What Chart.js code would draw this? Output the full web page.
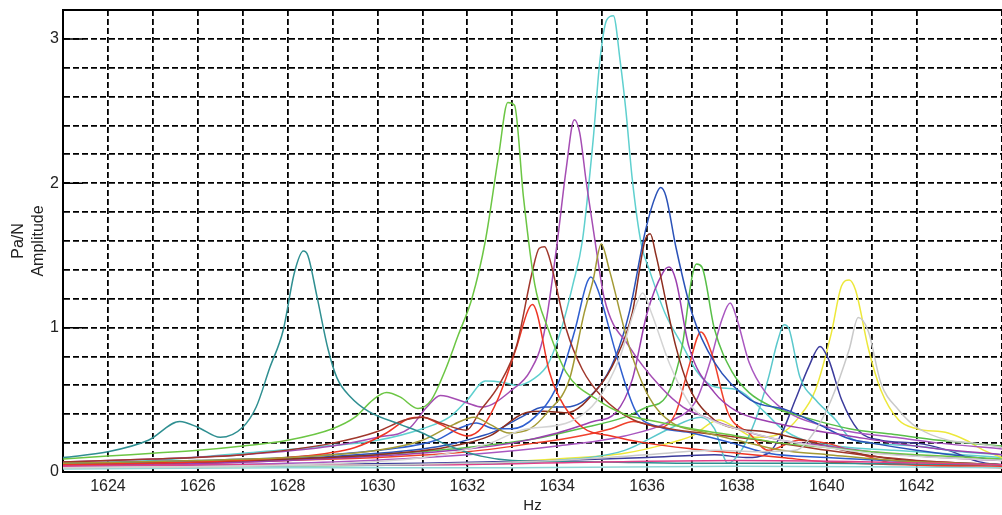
<!DOCTYPE html>
<html>
<head>
<meta charset="utf-8">
<script src="https://cdn.jsdelivr.net/npm/chart.js@4.4.0/dist/chart.umd.min.js"></script>
<style>
  html, body { margin: 0; padding: 0; background: #fff; }
  #wrap { width: 1002px; height: 515px; }
</style>
</head>
<body>
<div id="wrap"><canvas id="ampChart" width="1002" height="515"></canvas></div>
<script>
// frequency response curves, [Hz, Pa/N]
const tealLine = [[1623,0.10],[1624,0.14],[1624.9,0.22],[1625.6,0.35],[1626,0.31],[1626.5,0.24],[1627,0.31],[1627.3,0.45],[1627.6,0.72],[1627.9,0.98],[1628.15,1.38],[1628.35,1.53],[1628.45,1.5],[1628.65,1.22],[1628.9,0.85],[1629.1,0.65],[1629.4,0.52],[1629.8,0.42],[1630.5,0.33],[1631,0.27],[1631.6,0.18],[1632.3,0.11],[1633,0.08],[1635,0.07],[1637,0.06],[1640,0.06],[1643.9,0.05]];
const greenLine = [[1623,0.09],[1624,0.11],[1625,0.13],[1626,0.15],[1627,0.18],[1628,0.22],[1629,0.3],[1629.5,0.38],[1629.9,0.5],[1630.2,0.55],[1630.5,0.52],[1630.9,0.44],[1631.2,0.5],[1631.5,0.7],[1631.8,0.95],[1632.1,1.2],[1632.4,1.6],[1632.7,2.2],[1632.9,2.56],[1633.05,2.54],[1633.25,1.9],[1633.5,1.3],[1633.8,0.99],[1634.2,0.69],[1634.9,0.5],[1635.5,0.4],[1636.2,0.35],[1637,0.3],[1638,0.25],[1639,0.2],[1640,0.17],[1641,0.14],[1642,0.12],[1643.9,0.09]];
const purpleLine = [[1623,0.07],[1625,0.09],[1627,0.12],[1629,0.18],[1630,0.24],[1630.7,0.3],[1631.1,0.45],[1631.4,0.53],[1631.98,0.48],[1632.33,0.45],[1633,0.57],[1633.4,0.7],[1633.7,0.95],[1633.98,1.54],[1634.2,2.1],[1634.38,2.44],[1634.5,2.35],[1634.65,2.0],[1634.87,1.54],[1635.05,1.2],[1635.6,0.87],[1636.3,0.59],[1636.8,0.45],[1637.3,0.38],[1638,0.3],[1639,0.22],[1640,0.18],[1641,0.14],[1642,0.11],[1643.9,0.08]];
const cyanLine = [[1623,0.06],[1625,0.08],[1627,0.13],[1628.5,0.17],[1630,0.22],[1631,0.3],[1631.6,0.38],[1632,0.5],[1632.4,0.63],[1632.8,0.62],[1633.1,0.6],[1633.5,0.65],[1633.8,0.75],[1634.1,1.0],[1634.35,1.3],[1634.56,1.6],[1634.8,2.3],[1634.95,2.85],[1635.1,3.13],[1635.25,3.16],[1635.4,2.85],[1635.53,2.5],[1635.67,2.03],[1635.87,1.58],[1636.05,1.4],[1636.4,1.1],[1636.8,0.87],[1637.1,0.7],[1637.5,0.59],[1638,0.57],[1638.6,0.42],[1639,0.3],[1639.5,0.22],[1640.5,0.17],[1641.5,0.15],[1642.5,0.13],[1643.9,0.1]];
const blueLine = [[1623,0.05],[1626,0.07],[1628,0.09],[1630,0.13],[1631,0.16],[1631.6,0.19],[1632.2,0.24],[1632.6,0.28],[1633.2,0.38],[1633.7,0.45],[1634.2,0.45],[1634.9,0.58],[1635.3,0.8],[1635.6,1.1],[1635.97,1.68],[1636.2,1.92],[1636.3,1.97],[1636.42,1.91],[1636.64,1.56],[1637,1.1],[1637.5,0.76],[1638.3,0.5],[1639.1,0.43],[1639.75,0.34],[1640.5,0.23],[1641,0.2],[1642,0.15],[1643,0.11],[1643.9,0.08]];
const blue2Line = [[1623,0.06],[1626,0.08],[1628,0.1],[1630,0.15],[1631.3,0.22],[1631.8,0.3],[1632.2,0.34],[1632.6,0.3],[1633,0.3],[1633.5,0.38],[1634,0.6],[1634.4,0.99],[1634.65,1.3],[1634.75,1.35],[1634.93,1.24],[1635.3,0.83],[1635.75,0.42],[1636.3,0.31],[1637,0.27],[1637.9,0.2],[1638.7,0.13],[1640,0.1],[1642,0.07],[1643.9,0.05]];
const brownLine = [[1623,0.07],[1625,0.09],[1627,0.12],[1629,0.2],[1630,0.28],[1630.6,0.36],[1631,0.38],[1631.4,0.34],[1631.98,0.29],[1632.3,0.43],[1632.7,0.6],[1633.1,0.88],[1633.44,1.38],[1633.6,1.55],[1633.72,1.56],[1633.82,1.49],[1634.2,0.99],[1634.56,0.71],[1635,0.52],[1635.7,0.36],[1636.5,0.3],[1637.5,0.26],[1638.5,0.22],[1640,0.15],[1641,0.11],[1642,0.08],[1643.9,0.05]];
const brown2Line = [[1623,0.06],[1626,0.07],[1628,0.09],[1630,0.12],[1631.5,0.17],[1632.5,0.25],[1633.3,0.41],[1633.7,0.42],[1634.2,0.41],[1634.93,0.59],[1635.3,0.78],[1635.67,1.1],[1635.95,1.6],[1636.07,1.65],[1636.2,1.5],[1636.64,0.87],[1636.93,0.59],[1637.5,0.36],[1638,0.3],[1638.6,0.28],[1639.5,0.22],[1640.5,0.14],[1641.5,0.09],[1643.9,0.05]];
const oliveLine = [[1623,0.06],[1626,0.08],[1628,0.1],[1630,0.15],[1631,0.22],[1631.7,0.33],[1632.15,0.38],[1632.5,0.33],[1632.93,0.27],[1633.4,0.3],[1633.8,0.42],[1634.27,0.64],[1634.6,1.1],[1634.8,1.33],[1634.98,1.58],[1635.16,1.4],[1635.6,0.87],[1636.04,0.52],[1636.56,0.34],[1637.2,0.28],[1638,0.22],[1639,0.15],[1640,0.12],[1641.5,0.08],[1643.9,0.05]];
const purple2Line = [[1623,0.05],[1626,0.06],[1628,0.08],[1630,0.11],[1632,0.16],[1633,0.2],[1634,0.27],[1634.8,0.35],[1635.3,0.41],[1635.67,0.64],[1636,1.1],[1636.35,1.38],[1636.49,1.42],[1636.64,1.33],[1636.93,0.87],[1637.5,0.55],[1638,0.42],[1638.7,0.35],[1639.5,0.3],[1640.5,0.25],[1641.5,0.2],[1642.5,0.16],[1643.9,0.12]];
const green2Line = [[1623,0.06],[1626,0.07],[1628,0.09],[1630,0.12],[1632,0.17],[1633.5,0.23],[1634.5,0.3],[1635.5,0.38],[1636,0.45],[1636.42,0.52],[1636.78,0.87],[1637,1.35],[1637.1,1.44],[1637.22,1.42],[1637.5,0.99],[1637.9,0.69],[1638.27,0.55],[1638.8,0.45],[1639.5,0.38],[1640.5,0.3],[1641.5,0.26],[1642.5,0.22],[1643.9,0.18]];
const redLine = [[1623,0.05],[1626,0.06],[1628,0.08],[1630,0.1],[1632,0.14],[1633.5,0.2],[1634.5,0.25],[1635.2,0.3],[1635.7,0.35],[1636.3,0.31],[1636.64,0.41],[1636.93,0.73],[1637.2,0.97],[1637.44,0.82],[1637.8,0.41],[1638.27,0.27],[1638.7,0.15],[1639.38,0.22],[1640,0.2],[1640.8,0.12],[1641.5,0.06],[1643.9,0.03]];
const red2Line = [[1623,0.05],[1626,0.07],[1628,0.1],[1629.5,0.17],[1630.2,0.27],[1630.7,0.37],[1631,0.38],[1631.4,0.33],[1632,0.25],[1632.33,0.31],[1632.7,0.52],[1633.1,0.87],[1633.35,1.12],[1633.45,1.16],[1633.55,1.1],[1633.82,0.7],[1634.04,0.52],[1634.56,0.31],[1635.2,0.25],[1636,0.2],[1637,0.16],[1638,0.13],[1639,0.1],[1640,0.07],[1643.9,0.04]];
const purple3Line = [[1623,0.04],[1626,0.05],[1629,0.07],[1632,0.12],[1634,0.18],[1635.5,0.25],[1636.5,0.35],[1637.1,0.5],[1637.4,0.76],[1637.67,1.06],[1637.85,1.17],[1638,1.06],[1638.27,0.76],[1638.64,0.55],[1639.16,0.41],[1639.8,0.33],[1640.5,0.28],[1641.5,0.24],[1642.5,0.2],[1643.9,0.16]];
const cyan2Line = [[1623,0.03],[1627,0.04],[1631,0.05],[1634,0.08],[1635.5,0.15],[1636.5,0.3],[1637.2,0.38],[1637.5,0.3],[1637.8,0.06],[1638.1,0.15],[1638.4,0.35],[1638.7,0.65],[1638.9,0.9],[1639.05,1.02],[1639.16,0.99],[1639.4,0.66],[1639.75,0.5],[1640.2,0.36],[1640.5,0.24],[1641,0.2],[1642,0.18],[1643,0.14],[1643.9,0.12]];
const indigoLine = [[1623,0.04],[1627,0.05],[1631,0.06],[1634,0.08],[1636,0.1],[1637.5,0.12],[1638.2,0.1],[1638.7,0.13],[1639,0.27],[1639.3,0.5],[1639.6,0.73],[1639.85,0.87],[1640.04,0.78],[1640.33,0.5],[1640.7,0.29],[1641.2,0.22],[1642,0.2],[1642.7,0.15],[1643.4,0.07],[1643.9,0.05]];
const yellowLine = [[1623,0.03],[1628,0.04],[1632,0.06],[1634,0.09],[1635.5,0.13],[1636.5,0.2],[1637,0.25],[1637.6,0.36],[1638,0.3],[1638.4,0.24],[1639,0.27],[1639.38,0.38],[1639.75,0.57],[1640.1,0.96],[1640.33,1.29],[1640.5,1.33],[1640.64,1.26],[1640.93,0.85],[1641.2,0.57],[1641.6,0.36],[1642,0.3],[1642.7,0.27],[1643.1,0.22],[1643.5,0.15],[1643.9,0.1]];
const grayLine = [[1623,0.03],[1630,0.05],[1634,0.08],[1636,0.12],[1637.5,0.15],[1638.5,0.14],[1639.3,0.15],[1639.75,0.29],[1640.1,0.5],[1640.5,0.85],[1640.7,1.07],[1640.93,0.97],[1641.2,0.62],[1641.6,0.43],[1642,0.31],[1642.7,0.22],[1643.3,0.2],[1643.9,0.17]];
const gray2Line = [[1623,0.03],[1628,0.05],[1631,0.1],[1632.5,0.2],[1633.2,0.29],[1634.3,0.35],[1634.9,0.5],[1635.4,0.8],[1635.75,1.15],[1635.9,1.24],[1636.1,1.1],[1636.5,0.75],[1637,0.45],[1637.5,0.35],[1638,0.3],[1639,0.22],[1640,0.17],[1641,0.13],[1643.9,0.08]];
const pinkLine = [[1623,0.04],[1627,0.05],[1631,0.05],[1635,0.07],[1638,0.08],[1641,0.07],[1643.9,0.05]];
const paleCyanLine = [[1623,0.02],[1628,0.03],[1633,0.03],[1638,0.04],[1643.9,0.03]];

const hzTicks = [1624, 1626, 1628, 1630, 1632, 1634, 1636, 1638, 1640, 1642];
const ampTicks = [0, 1, 2, 3];

const curves = [
  [gray2Line, '#d4d4d4'], [grayLine, '#c9c9c9'], [paleCyanLine, '#8fd6d6'], [pinkLine, '#e0408a'],
  [tealLine, '#2f8f91'], [greenLine, '#6cc644'], [oliveLine, '#a39a35'], [brownLine, '#a0372b'],
  [red2Line, '#ee3524'], [purpleLine, '#a54db3'], [blue2Line, '#2f5fd0'], [brown2Line, '#8e2e1f'],
  [purple2Line, '#9b3faf'], [blueLine, '#2a52b8'], [green2Line, '#58bf48'], [redLine, '#f0412c'],
  [purple3Line, '#a957c0'], [cyan2Line, '#5ac8cc'], [indigoLine, '#3b3b9c'], [yellowLine, '#ede83a'],
  [cyanLine, '#5fd0cf']
];

Chart.defaults.font.family = "'Liberation Sans', Arial, sans-serif";
Chart.defaults.color = '#222';

// solid tick marks drawn inside the plot, plus the top frame line
const innerTicks = {
  id: 'innerTicks',
  beforeDatasetsDraw(chart) {
    const {ctx, chartArea, scales: {x, y}} = chart;
    ctx.save();
    ctx.strokeStyle = '#000';
    ctx.lineWidth = 1.5;
    ctx.beginPath();
    x.ticks.forEach(t => {
      if (t.value !== Math.round(t.value)) return;
      let len = hzTicks.includes(t.value) ? 8 : 4;
      if (t.value % 10 === 0) len = 16;
      const px = x.getPixelForValue(t.value);
      ctx.moveTo(px, chartArea.bottom);
      ctx.lineTo(px, chartArea.bottom - len);
    });
    ampTicks.forEach(v => {
      if (v === 0) return;
      const py = y.getPixelForValue(v);
      ctx.moveTo(chartArea.left, py);
      ctx.lineTo(chartArea.left + 20, py);
    });
    ctx.stroke();
    ctx.lineWidth = 2;
    ctx.beginPath();
    ctx.moveTo(chartArea.left, chartArea.top);
    ctx.lineTo(chartArea.right, chartArea.top);
    ctx.stroke();
    ctx.restore();
  }
};

new Chart(document.getElementById('ampChart'), {
  type: 'line',
  data: {
    datasets: curves.map(([pts, col]) => ({
      data: pts,
      borderColor: col,
      borderWidth: 1.5,
      pointRadius: 0,
      fill: false,
      cubicInterpolationMode: 'monotone'
    }))
  },
  options: {
    responsive: false,
    animation: false,
    layout: { padding: { top: 10, right: 0, bottom: 0, left: 0 } },
    plugins: { legend: { display: false }, tooltip: { enabled: false } },
    scales: {
      x: {
        type: 'linear',
        min: 1623,
        max: 1643.9,
        ticks: {
          stepSize: 1,
          autoSkip: false,
          maxRotation: 0,
          padding: 5,
          font: { size: 16 },
          callback: v => hzTicks.includes(v) ? String(v) : ''
        },
        grid: { color: '#000', lineWidth: 1.8, drawTicks: false },
        border: { display: true, color: '#000', width: 2, dash: [6, 3] },
        title: { display: true, text: 'Hz', font: { size: 15 }, padding: { top: 0, bottom: 0 } },
        afterFit: s => { s.height = 43; s.paddingLeft = 0; s.paddingRight = 0; }
      },
      y: {
        min: 0,
        max: 3.2,
        ticks: {
          stepSize: 0.2,
          autoSkip: false,
          padding: 4,
          font: { size: 16 },
          callback: v => {
            const r = Math.round(v);
            return (Math.abs(v - r) < 1e-6 && ampTicks.includes(r)) ? String(r) : '';
          }
        },
        grid: { color: '#000', lineWidth: 1.8, drawTicks: false },
        border: { display: true, color: '#000', width: 2, dash: [6, 3] },
        title: {
          display: true,
          text: ['Pa/N', 'Amplitude'],
          font: { size: 16, lineHeight: 1.25 },
          padding: { top: 9, bottom: 0 }
        },
        afterFit: s => { s.width = 63; s.paddingTop = 0; s.paddingBottom = 0; }
      }
    }
  },
  plugins: [innerTicks]
});
</script>
</body>
</html>
